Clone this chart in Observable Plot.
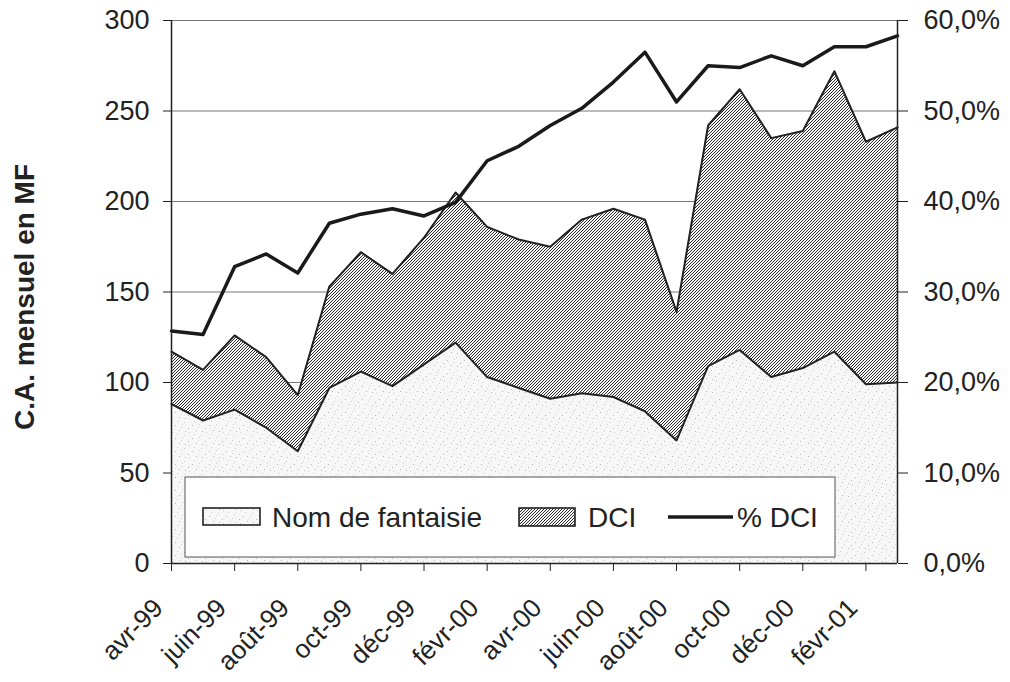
<!DOCTYPE html>
<html><head><meta charset="utf-8">
<script src="https://cdn.jsdelivr.net/npm/d3@7"></script>
<script src="https://cdn.jsdelivr.net/npm/@observablehq/plot@0.6"></script>
<style>
body{margin:0;background:#fff;}
#chart{position:relative;width:1010px;height:682px;}
</style></head><body><div id="chart"></div>
<script>
const months = ["avr-99","mai-99","juin-99","juil-99","août-99","sept-99","oct-99","nov-99","déc-99","janv-00","févr-00","mars-00","avr-00","mai-00","juin-00","juil-00","août-00","sept-00","oct-00","nov-00","déc-00","janv-01","févr-01","mars-01"];
const nomFantaisie = [88,79,85,75,62,97,106,98,110,122,103,97,91,94,92,84,68,109,118,103,108,117,99,100];
const dci = [29,28,41,39,31,56,66,62,70,83,83,82,84,96,104,106,71,133,144,132,131,155,134,141];
const pctDci = [25.7,25.3,32.8,34.2,32.1,37.6,38.6,39.2,38.4,39.9,44.5,46.1,48.4,50.3,53.2,56.5,51.0,55.0,54.8,56.1,55.0,57.1,57.1,58.3];
const yTicks = [0,50,100,150,200,250,300];
const pctTicks = [0,10,20,30,40,50,60];
const seriesNames = ["Nom de fantaisie","DCI","% DCI"];
const yTitle = "C.A. mensuel en MF";

const data = months.map((m,i)=>({i, month:m, nom:nomFantaisie[i], total:nomFantaisie[i]+dci[i], pct:pctDci[i]}));
const xTickIdx = months.map((m,i)=>i).filter(i=>i%2===0);
const pctToY = p => p*5; // 60 % on the right axis aligns with 300 on the left

const ink = "#222";
const FS = 27;
const plot = Plot.plot({
  width:1010, height:682,
  marginLeft:171, marginRight:113, marginTop:20, marginBottom:119,
  x:{domain:[0,23]},
  y:{domain:[0,300]},
  style:{fontFamily:"'Liberation Sans', Arial, sans-serif", fontSize:FS+"px", background:"white", color:ink},
  marks:[
    Plot.gridY(yTicks,{stroke:"#777", strokeOpacity:1, strokeWidth:1}),
    Plot.areaY(data,{x:"i", y1:0, y2:"nom", fill:"url(#speckle)"}),
    Plot.areaY(data,{x:"i", y1:"nom", y2:"total", fill:"url(#hatch)"}),
    Plot.lineY(data,{x:"i", y:"nom", stroke:ink, strokeWidth:2}),
    Plot.lineY(data,{x:"i", y:"total", stroke:ink, strokeWidth:2}),
    Plot.lineY(data,{x:"i", y:d=>pctToY(d.pct), stroke:"#1a1a1a", strokeWidth:3.5}),
    Plot.ruleX([0,23],{stroke:ink, strokeWidth:1.5}),
    Plot.ruleY([0],{stroke:ink, strokeWidth:1.5}),
    Plot.axisY({anchor:"left", ticks:yTicks, tickSize:8, tickPadding:14, label:null, fontSize:FS}),
    Plot.axisY({anchor:"right", ticks:pctTicks.map(pctToY), tickFormat:v=>(v/5).toFixed(1).replace(".",",")+"%", tickSize:10, tickPadding:16, label:null, fontSize:FS}),
    Plot.axisX({ticks:xTickIdx, tickFormat:()=>"", tickSize:8, label:null}),
    Plot.text(xTickIdx,{x:d=>d, text:d=>months[d], frameAnchor:"bottom", rotate:-45, textAnchor:"end", lineAnchor:"top", dx:-20, dy:33, fontSize:26, fill:ink})
  ]
});
document.getElementById("chart").appendChild(plot);

const svg = d3.select(plot);
const defs = svg.insert("defs",":first-child");
const hatch = defs.append("pattern").attr("id","hatch").attr("patternUnits","userSpaceOnUse").attr("width",3).attr("height",3);
hatch.append("rect").attr("width",3).attr("height",3).attr("fill","#f8f8f8");
hatch.append("path").attr("d","M-1,1 L1,-1 M0,3 L3,0 M2,4 L4,2").attr("stroke","#2a2a2a").attr("stroke-width",1.0);
const speckle = defs.append("pattern").attr("id","speckle").attr("patternUnits","userSpaceOnUse").attr("width",17).attr("height",13);
speckle.append("rect").attr("width",17).attr("height",13).attr("fill","#f7f7f7");
[[2,3],[9,1],[14,6],[5,9],[11,11],[1,12],[7,5],[15,2],[12,8]].forEach(([x,y],k)=>{
  speckle.append("rect").attr("x",x).attr("y",y).attr("width",1).attr("height",1).attr("fill", k%2 ? "#b8b8b8" : "#cfcfcf");
});

// Y title
svg.append("text").attr("transform","translate(34,297) rotate(-90)")
  .style("text-anchor","middle").style("font-weight","bold").style("font-size","28px")
  .attr("fill",ink).text(yTitle);

// Legend
const lg = svg.append("g").attr("fill",ink);
lg.append("rect").attr("x",185).attr("y",477).attr("width",650).attr("height",80).attr("fill","white").attr("stroke","#555").attr("stroke-width",1);
lg.append("rect").attr("x",203).attr("y",508).attr("width",57).attr("height",17).attr("fill","url(#speckle)").attr("stroke",ink).attr("stroke-width",1.6);
lg.append("line").attr("x1",668).attr("x2",733).attr("y1",517).attr("y2",517).attr("stroke","#1a1a1a").attr("stroke-width",3.5);
lg.append("rect").attr("x",519).attr("y",508).attr("width",56).attr("height",18).attr("fill","url(#hatch)").attr("stroke",ink).attr("stroke-width",1.6);
[[272,seriesNames[0]],[588,seriesNames[1]],[737,seriesNames[2]]].forEach(([x,t])=>{
  lg.append("text").attr("x",x).attr("y",527).style("text-anchor","start").style("font-size","28px").attr("fill",ink).text(t);
});
</script></body></html>
